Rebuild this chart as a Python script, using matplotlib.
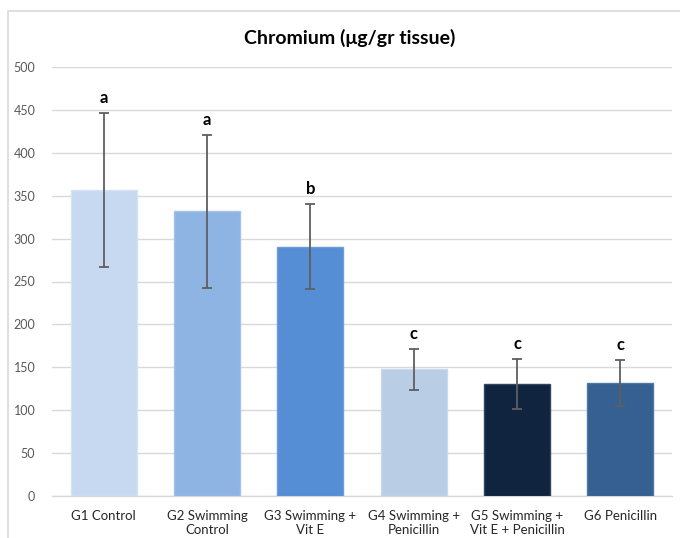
import matplotlib
matplotlib.use("Agg")
import matplotlib.pyplot as plt
from matplotlib.patches import Rectangle
import numpy as np

groups = ["G1 Control", "G2 Swimming\nControl", "G3 Swimming +\nVit E",
          "G4 Swimming +\nPenicillin", "G5 Swimming +\nVit E + Penicillin", "G6 Penicillin"]
means = [356.7, 332.0, 290.5, 147.6, 130.5, 131.7]
errors = [90.0, 89.0, 49.6, 23.6, 29.5, 26.6]
letters = ["a", "a", "b", "c", "c", "c"]
colors = ["#C6D9F1", "#8EB4E3", "#558ED5", "#B9CDE5", "#11243F", "#366092"]
edges = ["#D6E3F5", "#A5C3EA", "#6C9DDB", "#C9D8EB", "#34465F", "#5177A3"]
yticks = [0, 50, 100, 150, 200, 250, 300, 350, 400, 450, 500]

plt.rcParams["font.family"] = ["Lato", "DejaVu Sans"]

fig = plt.figure(figsize=(6.8, 5.38), dpi=100)
# chart frame: runs past the right and bottom edges of the canvas
fig.patches.append(Rectangle((8 / 680, -20 / 538), 700 / 680, 547 / 538,
                             transform=fig.transFigure, fill=False,
                             edgecolor="#D9D9D9", linewidth=1.2))

ax = fig.add_axes([52 / 680, 42 / 538, 620 / 680, 429 / 538])
x = np.arange(len(groups))
ax.bar(x, means, width=0.64, color=colors, edgecolor=edges, linewidth=1.0, zorder=3)
ax.errorbar(x, means, yerr=errors, fmt="none", ecolor="#5F5F5F",
            elinewidth=1.3, capsize=3.5, capthick=1.3, zorder=4)
for xi, m, e, lt in zip(x, means, errors, letters):
    ax.text(xi, m + e + 8, lt, ha="center", va="bottom",
            fontsize=12, fontweight="bold", color="#000000")

ax.set_xlim(-0.5, len(groups) - 0.5)
ax.set_ylim(0, 500)
ax.set_yticks(yticks)
ax.set_yticklabels([str(v) for v in yticks])
ax.set_xticks(x)
ax.set_xticklabels(groups, fontsize=9.5, color="#262626", linespacing=1.25)
ax.tick_params(axis="y", labelsize=9, labelcolor="#595959", length=0, pad=12)
ax.tick_params(axis="x", length=0, pad=10)
ax.yaxis.grid(True, color="#D9D9D9", linewidth=1.0, zorder=0)
ax.set_axisbelow(True)
for s in ["top", "right", "left"]:
    ax.spines[s].set_visible(False)
ax.spines["bottom"].set_color("#D9D9D9")
ax.spines["bottom"].set_linewidth(1.0)

fig.text(350 / 680, 1 - 38 / 538, "Chromium (μg/gr tissue)", ha="center", va="center",
         fontsize=14, fontweight="bold", color="#000000")

fig.savefig("out.png", dpi=100)
